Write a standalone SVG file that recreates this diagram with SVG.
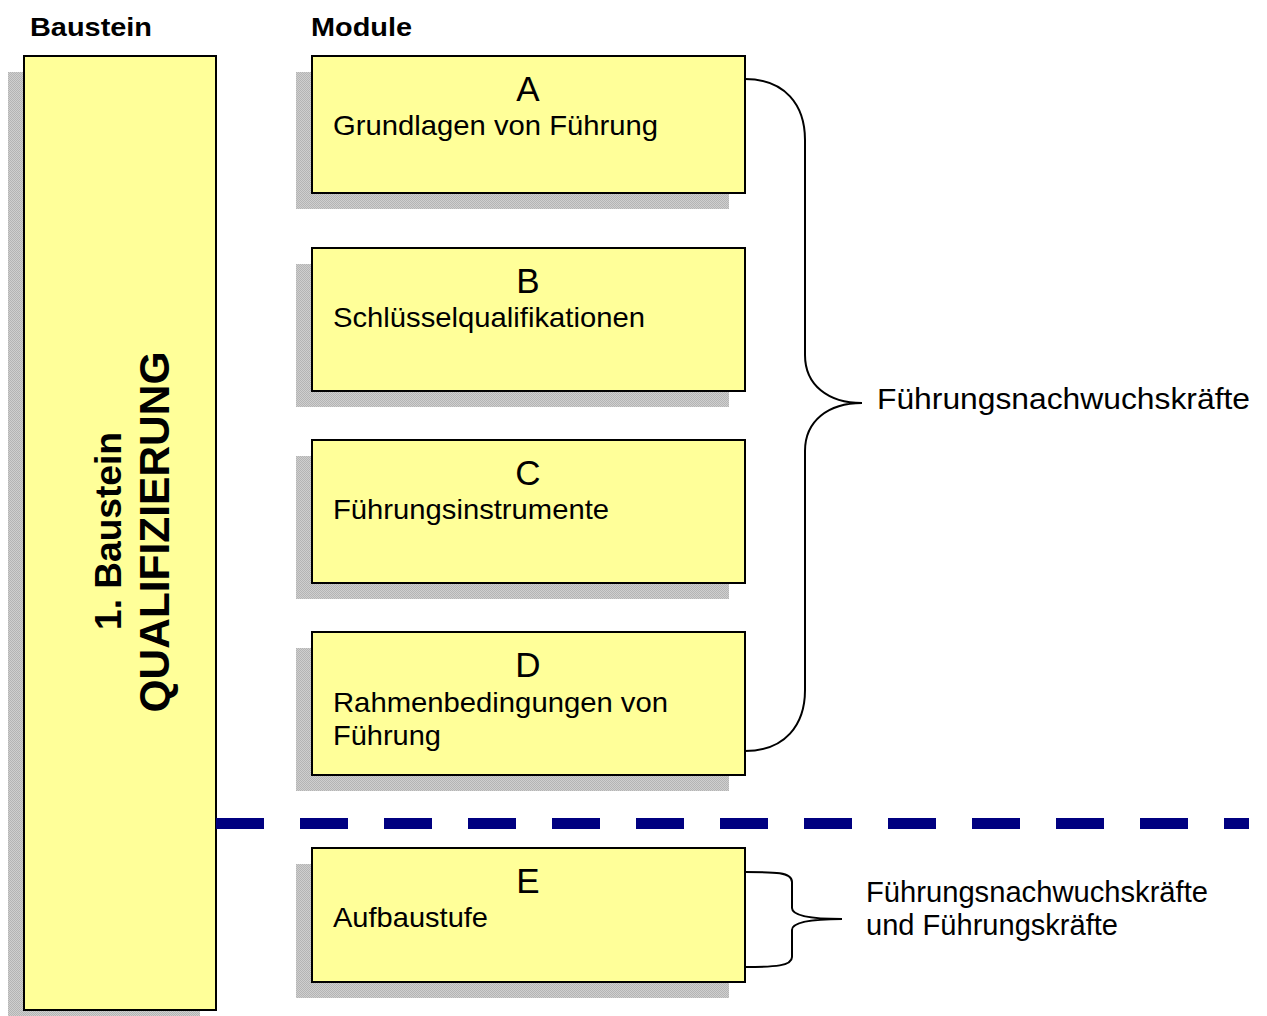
<svg xmlns="http://www.w3.org/2000/svg" width="1267" height="1016" viewBox="0 0 1267 1016">
  <defs>
    <pattern id="dither" width="2" height="2" patternUnits="userSpaceOnUse">
      <rect width="2" height="2" fill="#cfcfcf"/>
      <rect width="1" height="1" fill="#b4b4b4"/>
      <rect x="1" y="1" width="1" height="1" fill="#b4b4b4"/>
    </pattern>
  </defs>
  <style>
    .shadow { fill: url(#dither); }
    .box { fill: #FFFF99; stroke: #000; stroke-width: 2; }
    .hdr { font-family: "Liberation Sans", Arial, sans-serif; font-weight: bold; font-size: 26px; fill: #000; }
    .letter { font-family: "Liberation Sans", Arial, sans-serif; font-size: 35px; fill: #000; text-anchor: middle; }
    .lbl { font-family: "Liberation Sans", Arial, sans-serif; font-size: 28px; fill: #000; }
    .side { font-family: "Liberation Sans", Arial, sans-serif; font-size: 29px; fill: #000; }
    .brace { fill: none; stroke: #000; stroke-width: 2; }
    .vtext { font-family: "Liberation Sans", Arial, sans-serif; font-weight: bold; fill: #000; text-anchor: middle; }
  </style>
  <rect width="1267" height="1016" fill="#fff"/>

  <text class="hdr" x="30" y="36" textLength="122" lengthAdjust="spacingAndGlyphs">Baustein</text>
  <text class="hdr" x="311" y="36" textLength="101" lengthAdjust="spacingAndGlyphs">Module</text>

  <g id="baustein">
    <rect class="shadow" x="8" y="72" width="192" height="950"/>
    <rect class="box" x="24" y="56" width="192" height="954"/>
    <text class="vtext" font-size="36" transform="translate(121,531) rotate(-90)" textLength="198" lengthAdjust="spacingAndGlyphs">1. Baustein</text>
    <text class="vtext" font-size="43" transform="translate(169,532) rotate(-90)" textLength="361" lengthAdjust="spacingAndGlyphs">QUALIFIZIERUNG</text>
  </g>

  <g id="moduleA">
    <rect class="shadow" x="296" y="72" width="433" height="137"/>
    <rect class="box" x="312" y="56" width="433" height="137"/>
    <text class="letter" x="528" y="101">A</text>
    <text class="lbl" x="333" y="135" textLength="325" lengthAdjust="spacingAndGlyphs">Grundlagen von Führung</text>
  </g>

  <g id="moduleB">
    <rect class="shadow" x="296" y="264" width="433" height="143"/>
    <rect class="box" x="312" y="248" width="433" height="143"/>
    <text class="letter" x="528" y="293">B</text>
    <text class="lbl" x="333" y="327" textLength="312" lengthAdjust="spacingAndGlyphs">Schlüsselqualifikationen</text>
  </g>

  <g id="moduleC">
    <rect class="shadow" x="296" y="456" width="433" height="143"/>
    <rect class="box" x="312" y="440" width="433" height="143"/>
    <text class="letter" x="528" y="485">C</text>
    <text class="lbl" x="333" y="519" textLength="276" lengthAdjust="spacingAndGlyphs">Führungsinstrumente</text>
  </g>

  <g id="moduleD">
    <rect class="shadow" x="296" y="648" width="433" height="143"/>
    <rect class="box" x="312" y="632" width="433" height="143"/>
    <text class="letter" x="528" y="677">D</text>
    <text class="lbl" x="333" y="712" textLength="335" lengthAdjust="spacingAndGlyphs">Rahmenbedingungen von</text>
    <text class="lbl" x="333" y="745" textLength="108" lengthAdjust="spacingAndGlyphs">Führung</text>
  </g>

  <g id="moduleE">
    <rect class="shadow" x="296" y="864" width="433" height="134"/>
    <rect class="box" x="312" y="848" width="433" height="134"/>
    <text class="letter" x="528" y="893">E</text>
    <text class="lbl" x="333" y="927" textLength="155" lengthAdjust="spacingAndGlyphs">Aufbaustufe</text>
  </g>

  <g id="connectors">
    <line x1="216" y1="823.5" x2="1249" y2="823.5" stroke="#000080" stroke-width="11" stroke-dasharray="48 36"/>
    <path class="brace" d="M745,79 C785,79 805,105 805,140 L805,355 C805,385 828,403 862,403 C828,403 805,421 805,451 L805,690 C805,725 785,751 745,751"/>
    <path class="brace" d="M745,872 C775,872 792,872 792,882 L792,908 C792,916 812,919 842,919 C812,919 792,922 792,930 L792,957 C792,966 775,967 745,967"/>
  </g>

  <g id="labels">
    <text class="side" x="877" y="409" textLength="373" lengthAdjust="spacingAndGlyphs">Führungsnachwuchskräfte</text>
    <text class="side" font-size="27" x="866" y="902" textLength="342" lengthAdjust="spacingAndGlyphs">Führungsnachwuchskräfte</text>
    <text class="side" font-size="27" x="866" y="935" textLength="252" lengthAdjust="spacingAndGlyphs">und Führungskräfte</text>
  </g>
</svg>
